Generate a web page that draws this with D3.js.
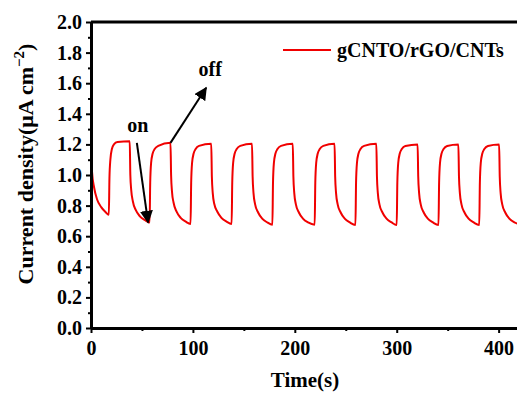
<!DOCTYPE html>
<html>
<head>
<meta charset="utf-8">
<script src="https://cdn.jsdelivr.net/npm/d3@7"></script>
<style>
  body { margin: 0; background: #fff; }
  svg { display: block; font-family: "Liberation Serif", "Times New Roman", serif; font-weight: bold; }
</style>
</head>
<body>
<svg id="chart" width="517" height="394"></svg>
<script>
// time (s) and current density (uA cm^-2), one on/off cycle per row
const timeS = [
  0, 0.4, 1, 3, 6, 10, 14, 17.5,
  18.1, 19, 20.5, 22.5, 26, 38, 38.6, 39.5, 41, 44, 48, 53, 57.5,
  58.1, 59, 60.5, 62.5, 66, 78, 78.6, 79.5, 81, 84, 88, 93, 97.7,
  98.3, 99.2, 100.7, 102.7, 106, 118, 118.6, 119.5, 121, 124, 128, 133, 138,
  138.6, 139.5, 141, 143, 146.5, 158, 158.6, 159.5, 161, 164, 168, 173, 178,
  178.6, 179.5, 181, 183, 186.5, 198, 198.6, 199.5, 201, 204, 208, 213, 219.5,
  220.1, 221, 222.5, 224.5, 228, 239, 239.6, 240.5, 242, 245, 249, 254, 259.5,
  260.1, 261, 262.5, 264.5, 268, 280, 280.6, 281.5, 283, 286, 290, 295, 300,
  300.6, 301.5, 303, 305, 308.5, 320.5, 321.1, 322, 323.5, 326.5, 330.5, 335.5, 341,
  341.6, 342.5, 344, 346, 349.5, 360.5, 361.1, 362, 363.5, 366.5, 370.5, 375.5, 381,
  381.6, 382.5, 384, 386, 389.5, 400.5, 401.1, 402, 403.5, 406.5, 410.5, 415.5, 420
]
const currentDensity = [
  2.0, 1.10, 1.02, 0.92, 0.84, 0.79, 0.76, 0.74,
  0.98, 1.10, 1.17, 1.20, 1.215, 1.22, 1.00, 0.90, 0.83, 0.77, 0.73, 0.705, 0.69,
  0.95, 1.08, 1.14, 1.17, 1.19, 1.21, 1.00, 0.89, 0.82, 0.76, 0.72, 0.695, 0.68,
  0.95, 1.08, 1.14, 1.17, 1.19, 1.205, 0.99, 0.88, 0.81, 0.76, 0.72, 0.695, 0.68,
  0.95, 1.08, 1.14, 1.17, 1.19, 1.205, 0.99, 0.88, 0.81, 0.755, 0.715, 0.69, 0.675,
  0.95, 1.08, 1.14, 1.17, 1.19, 1.205, 0.99, 0.88, 0.81, 0.755, 0.715, 0.69, 0.675,
  0.95, 1.08, 1.14, 1.17, 1.19, 1.205, 0.99, 0.88, 0.81, 0.755, 0.715, 0.69, 0.673,
  0.95, 1.08, 1.14, 1.17, 1.19, 1.205, 0.99, 0.88, 0.81, 0.755, 0.715, 0.69, 0.673,
  0.95, 1.08, 1.14, 1.17, 1.19, 1.20, 0.99, 0.88, 0.81, 0.755, 0.715, 0.69, 0.673,
  0.95, 1.08, 1.14, 1.17, 1.19, 1.20, 0.99, 0.88, 0.81, 0.755, 0.715, 0.69, 0.673,
  0.95, 1.08, 1.14, 1.17, 1.19, 1.20, 0.99, 0.88, 0.81, 0.755, 0.715, 0.69, 0.68
]

const xTicks = [0, 100, 200, 300, 400]
const xMinorTicks = [50, 150, 250, 350]
const yTicks = [0, 0.2, 0.4, 0.6, 0.8, 1.0, 1.2, 1.4, 1.6, 1.8, 2.0]
const yMinorTicks = [0.1, 0.3, 0.5, 0.7, 0.9, 1.1, 1.3, 1.5, 1.7, 1.9]
const seriesName = 'gCNTO/rGO/CNTs'

// annotations: label, label position (data), arrow start, arrow end (data)
const annotations = [
  { text: 'on', at: [46, 1.28], from: [45, 1.21], to: [56, 0.69] },
  { text: 'off', at: [117, 1.65], from: [78, 1.21], to: [113, 1.57] }
]

const LEFT = 91
const RIGHT = 519
const TOP = 22
const BOTTOM = 328
const RED = '#f00000'

const svg = d3.select('#chart')

const x = d3.scaleLinear().domain([0, 420]).range([LEFT, RIGHT])
const y = d3.scaleLinear().domain([0, 2]).range([BOTTOM, TOP])

const data = timeS.map((t, i) => ({ t, v: currentDensity[i] }))

const defs = svg.append('defs')
defs.append('clipPath').attr('id', 'plot')
  .append('rect')
  .attr('x', LEFT - 2).attr('y', TOP - 2)
  .attr('width', RIGHT - LEFT + 2).attr('height', BOTTOM - TOP + 2)

defs.append('marker')
  .attr('id', 'head')
  .attr('viewBox', '0 0 10 10')
  .attr('refX', 9).attr('refY', 5)
  .attr('markerWidth', 6.5).attr('markerHeight', 6.5)
  .attr('orient', 'auto')
  .append('path')
  .attr('d', 'M0,0L10,5L0,10z')
  .attr('fill', '#000')

// curve
const line = d3.line()
  .x((d) => x(d.t))
  .y((d) => y(d.v))
  .curve(d3.curveMonotoneX)

svg.append('path')
  .datum(data)
  .attr('clip-path', 'url(#plot)')
  .attr('fill', 'none')
  .attr('stroke', RED)
  .attr('stroke-width', 2)
  .attr('d', line)

// axes
const styleAxis = (g) => {
  g.select('.domain').attr('stroke', '#000').attr('stroke-width', 3)
  g.selectAll('.tick line').attr('stroke', '#000').attr('stroke-width', 2)
  g.selectAll('.tick text').attr('fill', '#000')
    .style('font-size', '20px').style('font-weight', 'bold')
    .style('font-family', '"Liberation Serif", serif')
}

svg.append('g')
  .attr('transform', `translate(0,${BOTTOM})`)
  .call(d3.axisBottom(x).tickValues(xTicks).tickSize(5).tickSizeOuter(0).tickPadding(8).tickFormat(d3.format('d')))
  .call(styleAxis)

svg.append('g')
  .attr('transform', `translate(0,${BOTTOM})`)
  .call(d3.axisBottom(x).tickValues(xMinorTicks).tickSize(3).tickSizeOuter(0).tickFormat(''))
  .call(styleAxis)

svg.append('g')
  .attr('transform', `translate(${LEFT},0)`)
  .call(d3.axisLeft(y).tickValues(yTicks).tickSize(5).tickSizeOuter(0).tickPadding(4).tickFormat(d3.format('.1f')))
  .call(styleAxis)

svg.append('g')
  .attr('transform', `translate(${LEFT},0)`)
  .call(d3.axisLeft(y).tickValues(yMinorTicks).tickSize(3).tickSizeOuter(0).tickFormat(''))
  .call(styleAxis)

// top frame line
svg.append('line')
  .attr('x1', LEFT).attr('x2', 517)
  .attr('y1', TOP).attr('y2', TOP)
  .attr('stroke', '#000').attr('stroke-width', 3)

// axis titles
svg.append('text')
  .attr('x', 305).attr('y', 387)
  .attr('text-anchor', 'middle')
  .style('font-size', '21px')
  .text('Time(s)')

const yTitle = svg.append('text')
  .attr('transform', 'translate(33,164) rotate(-90)')
  .attr('text-anchor', 'middle')
  .style('font-size', '22px')
yTitle.append('tspan').text('Current density(μA cm')
yTitle.append('tspan').attr('dy', -9).style('font-size', '15px').text('−2')
yTitle.append('tspan').attr('dy', 9).text(')')

// legend
svg.append('line')
  .attr('x1', 283).attr('x2', 331)
  .attr('y1', 50).attr('y2', 50)
  .attr('stroke', RED).attr('stroke-width', 2)
svg.append('text')
  .attr('x', 337).attr('y', 57)
  .style('font-size', '20px')
  .text(seriesName)

// annotations
annotations.forEach((a) => {
  svg.append('line')
    .attr('x1', x(a.from[0])).attr('y1', y(a.from[1]))
    .attr('x2', x(a.to[0])).attr('y2', y(a.to[1]))
    .attr('stroke', '#000').attr('stroke-width', 2)
    .attr('marker-end', 'url(#head)')
  svg.append('text')
    .attr('x', x(a.at[0])).attr('y', y(a.at[1]))
    .attr('text-anchor', 'middle')
    .style('font-size', '20px')
    .text(a.text)
})
</script>
</body>
</html>
